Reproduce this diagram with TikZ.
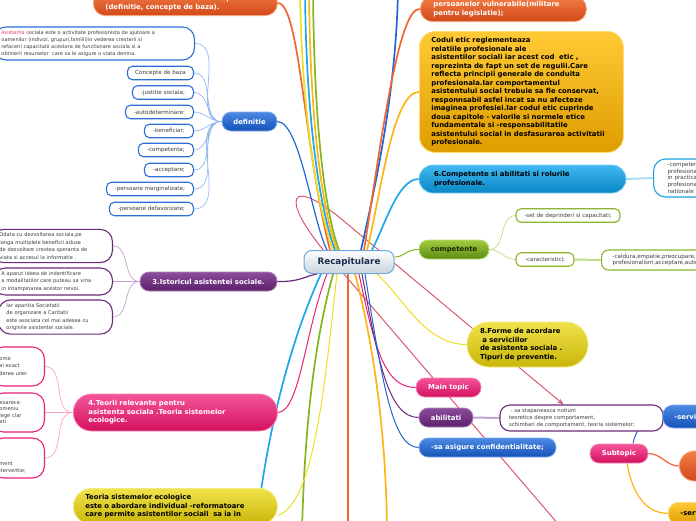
\documentclass[tikz,border=0pt]{standalone}
\usepackage{fontspec}
\setmainfont{DejaVu Sans}
\usetikzlibrary{arrows.meta,backgrounds}

\definecolor{orangetop}{HTML}{F37E45}
\definecolor{orangebot}{HTML}{D2481A}
\definecolor{goldtop}{HTML}{FFC935}
\definecolor{goldbot}{HTML}{DE9D00}
\definecolor{cyantop}{HTML}{40B9F0}
\definecolor{cyanbot}{HTML}{0A86C6}
\definecolor{cyanline}{HTML}{1BA1E2}
\definecolor{twigcyan}{HTML}{A9DDF5}
\definecolor{greentop}{HTML}{A2CB40}
\definecolor{greenbot}{HTML}{5E8B12}
\definecolor{greenline}{HTML}{8DB52B}
\definecolor{twiggreen}{HTML}{C3DC8A}
\definecolor{greenink}{HTML}{1E2A05}
\definecolor{yellowtop}{HTML}{F0E24A}
\definecolor{yellowbot}{HTML}{C9B60A}
\definecolor{pinktop}{HTML}{F4559A}
\definecolor{pinkbot}{HTML}{D4105F}
\definecolor{twigpink}{HTML}{F5A8C9}
\definecolor{purpletop}{HTML}{8C4E9C}
\definecolor{purplebot}{HTML}{5B1E6B}
\definecolor{purpleline}{HTML}{6B2B7D}
\definecolor{twigpurple}{HTML}{C3A3D0}
\definecolor{bluetop}{HTML}{4C8AE3}
\definecolor{bluebot}{HTML}{1552B8}
\definecolor{defblue}{HTML}{2E6FD8}
\definecolor{twigblue}{HTML}{94B8EE}
\definecolor{recapbot}{HTML}{C9D3DE}
\definecolor{recapline}{HTML}{6FA8DC}
\definecolor{recapink}{HTML}{1C2B4C}
\definecolor{relred}{HTML}{D9596B}
\definecolor{leafgray}{HTML}{3C3C3C}
\definecolor{redtext}{HTML}{E0406E}
\definecolor{brcyan}{HTML}{1BA8E8}
\definecolor{brpink}{HTML}{E8207A}
\definecolor{brgreen}{HTML}{84B41E}
\definecolor{brorange}{HTML}{F26530}
\definecolor{brgold}{HTML}{FDB515}
\definecolor{brblue}{HTML}{2166D5}
\definecolor{brpurple}{HTML}{6B2B7D}
\definecolor{bryellow}{HTML}{EEDD22}

\newcommand\topicfont{\fontsize{6.9}{8.5}\selectfont\bfseries}
\newcommand\leaffont{\fontsize{5.6}{6.8}\selectfont}
\newcommand\notefont{\fontsize{5}{6.8}\selectfont}
\newcommand\histfont{\fontsize{5.1}{7.5}\selectfont}

\begin{document}
\begin{tikzpicture}[x=1pt, y=-1pt, >=stealth,
  topic/.style={rounded corners=9pt, minimum height=19pt, text=white, font=\topicfont},
  shadebox/.style 2 args={top color=#1, bottom color=#2, draw=#1!70!white, line width=0.8pt},
  leaf/.style={draw, fill=white, rounded corners=5pt, line width=1.1pt, text=leafgray,
               font=\leaffont, minimum height=13.5pt, inner xsep=4pt},
  branch/.style={line width=1.7pt},
  twig/.style={line width=0.7pt},
  relation/.style={line width=1pt, relred, -{Stealth[length=6pt,width=5pt]}}]

\useasboundingbox (0,0) rectangle (696,520);

%% ==== centru ========================================================
\node[rounded corners=8pt, minimum width=90pt, minimum height=23pt, top color=white,
      bottom color=recapbot, draw=recapline, line width=1pt, text=recapink,
      font=\fontsize{8.8}{10}\selectfont\bfseries] (recap) at (349,262) {Recapitulare};

%% ==== sus: noduri taiate de margine =================================
\node[topic, shadebox={orangetop}{orangebot}, anchor=south west, text width=160pt,
      inner xsep=12pt, inner ysep=5pt, align=left, rounded corners=12pt] (cadru) at (93,16)
  {Asistenta sociala -- cadru conceptual\\(definitie, concepte de baza).};
\node[topic, shadebox={orangetop}{orangebot}, anchor=south west, text width=140pt,
      inner xsep=13pt, inner ysep=5pt, align=left, rounded corners=12pt] (vulner) at (420,22)
  {persoanelor vulnerabile(militare\\pentru legislatie);};

%% ==== codul etic ====================================================
\node[topic, shadebox={goldtop}{goldbot}, text=black, anchor=north west, text width=180pt,
      inner xsep=12pt, minimum height=121pt, align=left, rounded corners=16pt] (codetic) at (419,31)
  {Codul etic reglementeaza\\relatiile profesionale ale\\asistentilor sociali iar acest cod\ \ etic ,\\
   reprezinta de fapt un set de regulii.Care\\reflecta principii generale de conduita\\
   profesionala.Iar comportamentul\\asistentului social trebuie sa fie conservat,\\
   responnsabil asfel incat sa nu afecteze\\imaginea profesiei.Iar codul etic cuprinde\\
   doua capitole - valorile si normele etice\\fundamentale si -responsabilitatile\\
   asistentului social in desfasurarea activitatii\\profesionale.};

%% ==== 6. competente si roluri =======================================
\node[topic, shadebox={cyantop}{cyanbot}, text=black, minimum width=207pt, minimum height=28pt,
      text width=177pt, inner xsep=15pt, align=left, rounded corners=14pt] (rolur) at (522.5,179)
  {6.Competente si abilitati si rolurile\\profesionale.};
\node[leaf, draw=cyanline, anchor=west, minimum height=38pt, text width=60pt, inner xsep=14pt,
      align=left, rounded corners=12pt] (rolurR) at (653,178)
  {-competente\\profesionale\\in practica\\profesionala\\nationale};

%% ==== competente ====================================================
\node[topic, shadebox={greentop}{greenbot}, text=greenink, minimum width=70pt] (compet) at (454,249.5) {competente};
\node[leaf, draw=greenline, minimum width=104pt] (setdep) at (568,215.5) {-set de deprinderi si capacitati;};
\node[leaf, draw=greenline, minimum width=58pt] (caract) at (545,259.5) {-caracteristici;};
\node[leaf, draw=greenline, anchor=west, minimum height=20pt, text width=140pt, inner xsep=11pt,
      align=left, rounded corners=7pt] (caldura) at (601,260)
  {-caldura,empatie,preocupare,atentie;\\profesionalism,acceptare,autenticitate;};

%% ==== 8. forme de acordare ==========================================
\node[topic, shadebox={yellowtop}{yellowbot}, text=black, minimum width=121pt, minimum height=45pt,
      text width=95pt, inner xsep=13pt, align=left, rounded corners=22pt] (forme) at (527.5,344.5)
  {8.Forme de acordare\\\ a serviciilor\\de asistenta sociala .\\Tipuri de preventie.};

%% ==== jos dreapta ===================================================
\node[topic, shadebox={pinktop}{pinkbot}, minimum width=65pt] (maintop) at (448.5,387.5) {Main topic};
\node[topic, shadebox={purpletop}{purplebot}, minimum width=54pt] (abilit) at (446,417.5) {abilitati};
\node[topic, shadebox={bluetop}{bluebot}, minimum width=137pt] (confid) at (487.5,447.5) {-sa asigure confidentialitate;};
\node[leaf, draw=purpleline, minimum width=163pt, minimum height=26pt, text width=145pt, inner xsep=9pt,
      align=left, rounded corners=10pt, font=\fontsize{5.3}{7}\selectfont] (stapan) at (581.5,418)
  {\ - sa stapaneasca notiuni\\teoretice despre comportament,\\schimbari de comportament, teoria sistemelor;};
\node[topic, shadebox={bluetop}{bluebot}, anchor=west, minimum width=70pt, minimum height=23pt,
      text width=50pt, inner xsep=12pt, align=left, rounded corners=11pt] (servB) at (662,416.5) {-servicii};
\node[topic, shadebox={pinktop}{pinkbot}, minimum width=58pt] (subtop) at (619,453.5) {Subtopic};
\node[topic, shadebox={orangetop}{orangebot}, anchor=west, minimum width=50pt, minimum height=30pt,
      rounded corners=15pt] (blob) at (679,466) {};
\node[topic, shadebox={goldtop}{goldbot}, text=black, anchor=north west, minimum width=60pt,
      minimum height=22pt, text width=40pt, inner xsep=12pt, align=left, rounded corners=10pt] (servY) at (668,502) {-servicii};

%% ==== definitie si concepte =========================================
\node[topic, shadebox={bluetop}{bluebot}, minimum width=55pt] (defin) at (249.5,121.5) {definitie};
\node[leaf, draw=defblue, anchor=east, text width=185.5pt, inner xsep=7.5pt, minimum height=33pt,
      rounded corners=12pt, align=left, font=\notefont] (defA) at (195,43.5)
  {\textcolor{redtext}{Asistenta s}ociala este o activitate profesionista de ajutoare a\\
   oamenilor (indivizi, grupuri,familii)in vederea cresterii si\\
   refacerii capacitatii acestora de functionare sociala si a\\
   obtinerii resurselor\ \ care sa le asigure o viata demna.};
\node[leaf, draw=defblue, anchor=east, minimum width=66pt] (defB) at (194,73) {Concepte de baza};
\node[leaf, draw=defblue, anchor=east, minimum width=61pt] (defC) at (194,92.5) {-justitie sociala;};
\node[leaf, draw=defblue, anchor=east, minimum width=68pt] (defD) at (194,112) {-autodeterminare:};
\node[leaf, draw=defblue, anchor=east, minimum width=49pt] (defE) at (194,131) {-beneficiar;};
\node[leaf, draw=defblue, anchor=east, minimum width=55pt] (defF) at (194,150) {-competenta;};
\node[leaf, draw=defblue, anchor=east, minimum width=49pt] (defG) at (194,170) {-acceptare;};
\node[leaf, draw=defblue, anchor=east, minimum width=87pt] (defH) at (194,189) {-persoane marginalizate;};
\node[leaf, draw=defblue, anchor=east, minimum width=84pt] (defI) at (194,209) {-persoane defavorizate;};

%% ==== 3. istoricul ==================================================
\node[topic, shadebox={purpletop}{purplebot}, minimum width=137pt] (istoric) at (208.5,281.5) {3.Istoricul asistentei sociale.};
\node[leaf, draw=purpleline, anchor=east, text width=105pt, inner xsep=8pt, minimum height=32pt,
      rounded corners=12pt, align=left, font=\histfont] (istA) at (113,246)
  {Odata cu dezvoltarea sociala,pe\\langa multiplele beneficii aduse\\de dezvoltare crestea speranta de\\viata si accesul la informatie .};
\node[leaf, draw=purpleline, anchor=east, text width=103pt, inner xsep=8pt, minimum height=27pt,
      rounded corners=12pt, align=left, font=\histfont] (istB) at (113,281.5)
  {A aparut ideea de indentificare\\a modalitatilor care puteau sa vina\\in intampinarea acestor nevoi.};
\node[leaf, draw=purpleline, anchor=east, text width=98pt, inner xsep=8pt, minimum height=32pt,
      rounded corners=12pt, align=left, font=\histfont] (istC) at (113,317)
  {Iar aparitia Societatii\\de organizare a Caritatii\\este asociata cel mai adesea cu\\originile asistentei sociale.};

%% ==== 4. teorii relevante ===========================================
\node[topic, shadebox={pinktop}{pinkbot}, anchor=west, minimum width=204pt, minimum height=37pt,
      text width=174pt, inner xsep=15pt, align=left, rounded corners=18pt] (teorii) at (73,412.5)
  {4.Teorii relevante pentru\\asistenta sociala .Teoria sistemelor\\ecologice.};
\node[leaf, draw=brpink, anchor=east, text width=37pt, inner xsep=8pt, minimum height=39pt,
      rounded corners=12pt, align=left, font=\histfont] (teoA) at (45,366.5) {ome\\ai exact\\derea unei};
\node[leaf, draw=brpink, anchor=east, text width=37pt, inner xsep=8pt, minimum height=39pt,
      rounded corners=12pt, align=left, font=\fontsize{5.1}{6.5}\selectfont] (teoB) at (45,412.5) {eoarece\\omeniu\\lege clar\\ati};
\node[leaf, draw=brpink, anchor=east, text width=37pt, inner xsep=8pt, minimum height=40pt,
      rounded corners=12pt, align=left, font=\histfont] (teoC) at (45,458) {\mbox{}\\\mbox{}\\\mbox{}\\ment\\iterventie;};

%% ==== teoria sistemelor ecologice ===================================
\node[topic, shadebox={yellowtop}{yellowbot}, text=black, anchor=north west, minimum width=204pt,
      minimum height=36pt, text width=180pt, inner xsep=12pt, align=left, rounded corners=18pt] (teoria) at (73,488)
  {Teoria sistemelor ecologice\\este o abordare individual -reformatoare\\care permite asistentilor sociali\ \ sa ia in};

%% ==== capete in afara paginii =======================================
\coordinate (upA) at (300,-10);
\coordinate (upB) at (305,-10);
\coordinate (upC) at (309,-10);
\coordinate (upD) at (313,-10);
\coordinate (upE) at (398,-10);
\coordinate (downA) at (256,530);
\coordinate (downB) at (302,530);
\coordinate (downC) at (348,530);
\coordinate (downD) at (387,530);
\coordinate (relS) at (565,532);

%% ==== legaturi (sub noduri) =========================================
\begin{scope}[on background layer]

  %% relatia rosie cu bucla
  \draw[relation] (relS) -- (325,252) .. controls (280,198) and (288,174) .. (345,222)
    -- ([xshift=-18pt]stapan.north);

  %% ramuri spre sus
  \draw[branch, brorange] (cadru.east) .. controls (300,3) and (304,150) .. ([xshift=-19pt]recap.north);
  \draw[branch, bryellow] (upA) .. controls (302,120) and (318,210) .. ([xshift=-16pt]recap.north);
  \draw[branch, brcyan]   (upB) .. controls (306,120) and (320,210) .. ([xshift=-14pt]recap.north);
  \draw[branch, brgold]   (upC) .. controls (310,120) and (322,210) .. ([xshift=-12pt]recap.north);
  \draw[branch, brgreen]  (upD) .. controls (314,120) and (324,210) .. ([xshift=-10pt]recap.north);
  \draw[branch, brblue]   (upE) .. controls (396,100) and (372,200) .. ([xshift=12pt]recap.north);
  \draw[branch, brorange] (vulner.west) .. controls (398,6) and (380,150) .. ([xshift=15pt]recap.north);
  \draw[branch, brgold]   (codetic.west) .. controls (392,92) and (380,200) .. ([xshift=18pt]recap.north);
  \draw[branch, brcyan]   (rolur.west) .. controls (398,179) and (385,225) .. ([xshift=23pt]recap.north);
  \draw[line width=1pt, brgreen] (compet.west) .. controls (405,249.5) and (405,257) .. ([yshift=5pt]recap.east);

  %% ramuri spre stanga
  \draw[line width=1.2pt, brblue] (defin.east) .. controls (300,122) and (312,220) .. ([xshift=-22pt]recap.north);
  \draw[line width=1.2pt, brpurple] (istoric.east) .. controls (300,282) and (305,276) .. ([xshift=-32pt]recap.south);

  %% ramuri spre jos
  \draw[branch, brcyan]   ([xshift=-28pt]recap.south) .. controls (295,330) and (268,420) .. (downA);
  \draw[line width=1pt, brpink] ([xshift=-22pt]recap.south) .. controls (305,330) and (300,412) .. (teorii.east);
  \draw[branch, brgreen]  ([xshift=-16pt]recap.south) .. controls (315,340) and (305,420) .. (downB);
  \draw[line width=1pt, bryellow] ([xshift=-12pt]recap.south) .. controls (325,380) and (315,503) .. ([yshift=-9pt]teoria.east);
  \draw[branch, brorange] ([xshift=-1pt]recap.south) -- (downC);
  \draw[branch, brgold]   ([xshift=6pt]recap.south) .. controls (370,330) and (386,420) .. (downD);
  \draw[line width=1pt, brpink]   ([xshift=10pt]recap.south) .. controls (375,350) and (385,387.5) .. (maintop.west);
  \draw[line width=1pt, brpurple] ([xshift=13pt]recap.south) .. controls (378,360) and (388,417.5) .. (abilit.west);
  \draw[line width=1pt, brblue]   ([xshift=16pt]recap.south) .. controls (382,380) and (392,447.5) .. (confid.west);
  \draw[line width=1pt, bryellow] ([xshift=28pt]recap.south) .. controls (405,300) and (425,344.5) .. (forme.west);

  %% crengi subtiri
  \draw[twig, twigblue] (defin.west) to[out=180,in=0] (defA.east)
    (defin.west) to[out=180,in=0] (defB.east) (defin.west) to[out=180,in=0] (defC.east)
    (defin.west) to[out=180,in=0] (defD.east) (defin.west) to[out=180,in=0] (defE.east)
    (defin.west) to[out=180,in=0] (defF.east) (defin.west) to[out=180,in=0] (defG.east)
    (defin.west) to[out=180,in=0] (defH.east) (defin.west) to[out=180,in=0] (defI.east);
  \draw[twig, twigpurple] (istoric.west) to[out=180,in=0] (istA.east)
    (istoric.west) to[out=180,in=0] (istB.east) (istoric.west) to[out=180,in=0] (istC.east);
  \draw[twig, twigpink] (teorii.west) to[out=180,in=0] (teoA.east)
    (teorii.west) to[out=180,in=0] (teoB.east) (teorii.west) to[out=180,in=0] (teoC.east);
  \draw[twig, twiggreen] (compet.east) to[out=0,in=180] (setdep.west)
    (compet.east) to[out=0,in=180] (caract.west);
  \draw[line width=2pt, twiggreen] (caract.east) -- (caldura.west);
  \draw[line width=2pt, twigcyan] (rolur.east) -- (rolurR.west);
  \draw[line width=2pt, twigpurple] (abilit.east) -- (stapan.west);
  \draw[line width=1pt, brblue] ([xshift=14pt]subtop.north) to[out=80,in=180] (servB.west);
  \draw[line width=1.2pt, brorange] (subtop.east) to[out=0,in=180] (blob.west);
  \draw[line width=1.2pt, brgold] ([xshift=8pt]subtop.south) to[out=-80,in=180] (servY.west);

\end{scope}

\end{tikzpicture}
\end{document}
